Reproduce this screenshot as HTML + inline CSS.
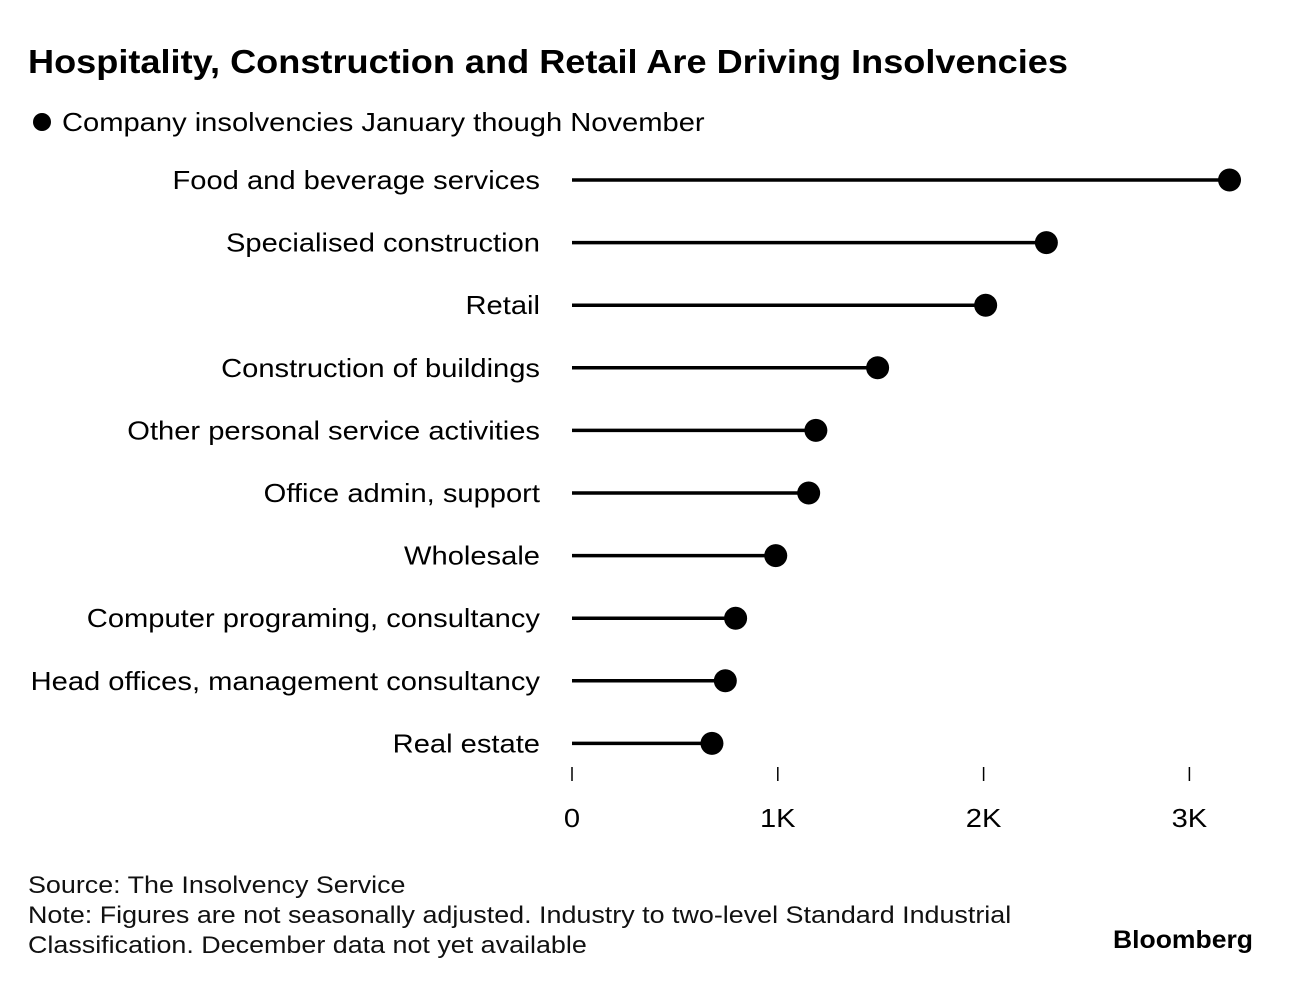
<!DOCTYPE html>
<html><head><meta charset="utf-8"><style>
body{margin:0;background:#fff;width:1293px;height:984px;overflow:hidden;font-family:"Liberation Sans",sans-serif;color:#000}
</style></head><body>
<svg id="svg" width="1293" height="984">
<text x="28" y="73" font-size="33" font-weight="bold" lengthAdjust="spacingAndGlyphs" textLength="1040">Hospitality, Construction and Retail Are Driving Insolvencies</text>
<circle cx="42" cy="122" r="9"/>
<text class="w" x="62" y="131" font-size="26">Company insolvencies January though November</text>
<g id="plot"></g>
<text class="w" x="28" y="893" font-size="24" fill="#111">Source: The Insolvency Service</text>
<text class="w" x="28" y="923" font-size="24" fill="#111">Note: Figures are not seasonally adjusted. Industry to two-level Standard Industrial</text>
<text class="w" x="28" y="953" font-size="24" fill="#111">Classification. December data not yet available</text>
<text x="1253" y="948" font-size="25" font-weight="bold" text-anchor="end" lengthAdjust="spacingAndGlyphs" textLength="140">Bloomberg</text>
</svg>
<script>
const categories=["Food and beverage services","Specialised construction","Retail","Construction of buildings","Other personal service activities","Office admin, support","Wholesale","Computer programing, consultancy","Head offices, management consultancy","Real estate"];
const values=[3195,2305,2010,1485,1185,1150,990,795,745,680];
const tickValues=[0,1000,2000,3000];
const tickLabels=["0","1K","2K","3K"];
const NS="http://www.w3.org/2000/svg";
const g=document.getElementById('plot');
const x=v=>572+v*0.2058;
const y=i=>180+i*62.6;
function mk(t,a){const e=document.createElementNS(NS,t);for(const k in a)e.setAttribute(k,a[k]);g.appendChild(e);return e;}
categories.forEach((c,i)=>{
 const t=mk('text',{x:540,y:y(i)+9,'font-size':26,'text-anchor':'end','class':'w'});t.textContent=c;
 
 
 const l=mk('line',{x1:x(0),x2:x(values[i]),y1:y(i),y2:y(i),stroke:'#000','stroke-width':3.5});
 
 
 const d=mk('circle',{cx:x(values[i]),cy:y(i),r:11.5});
 
 
});
tickValues.forEach((v,i)=>{
 const l=mk('line',{x1:x(v),x2:x(v),y1:767,y2:781,stroke:'#000','stroke-width':1.5});
 
 
 const t=mk('text',{x:x(v),y:827,'font-size':26,'text-anchor':'middle','class':'w'});t.textContent=tickLabels[i];
 
 
});
document.querySelectorAll('text.w').forEach(t=>{
 const w=t.getComputedTextLength();
 t.setAttribute('lengthAdjust','spacingAndGlyphs');
 t.setAttribute('textLength',(w*1.12).toFixed(1));
});
</script>
</body></html>
